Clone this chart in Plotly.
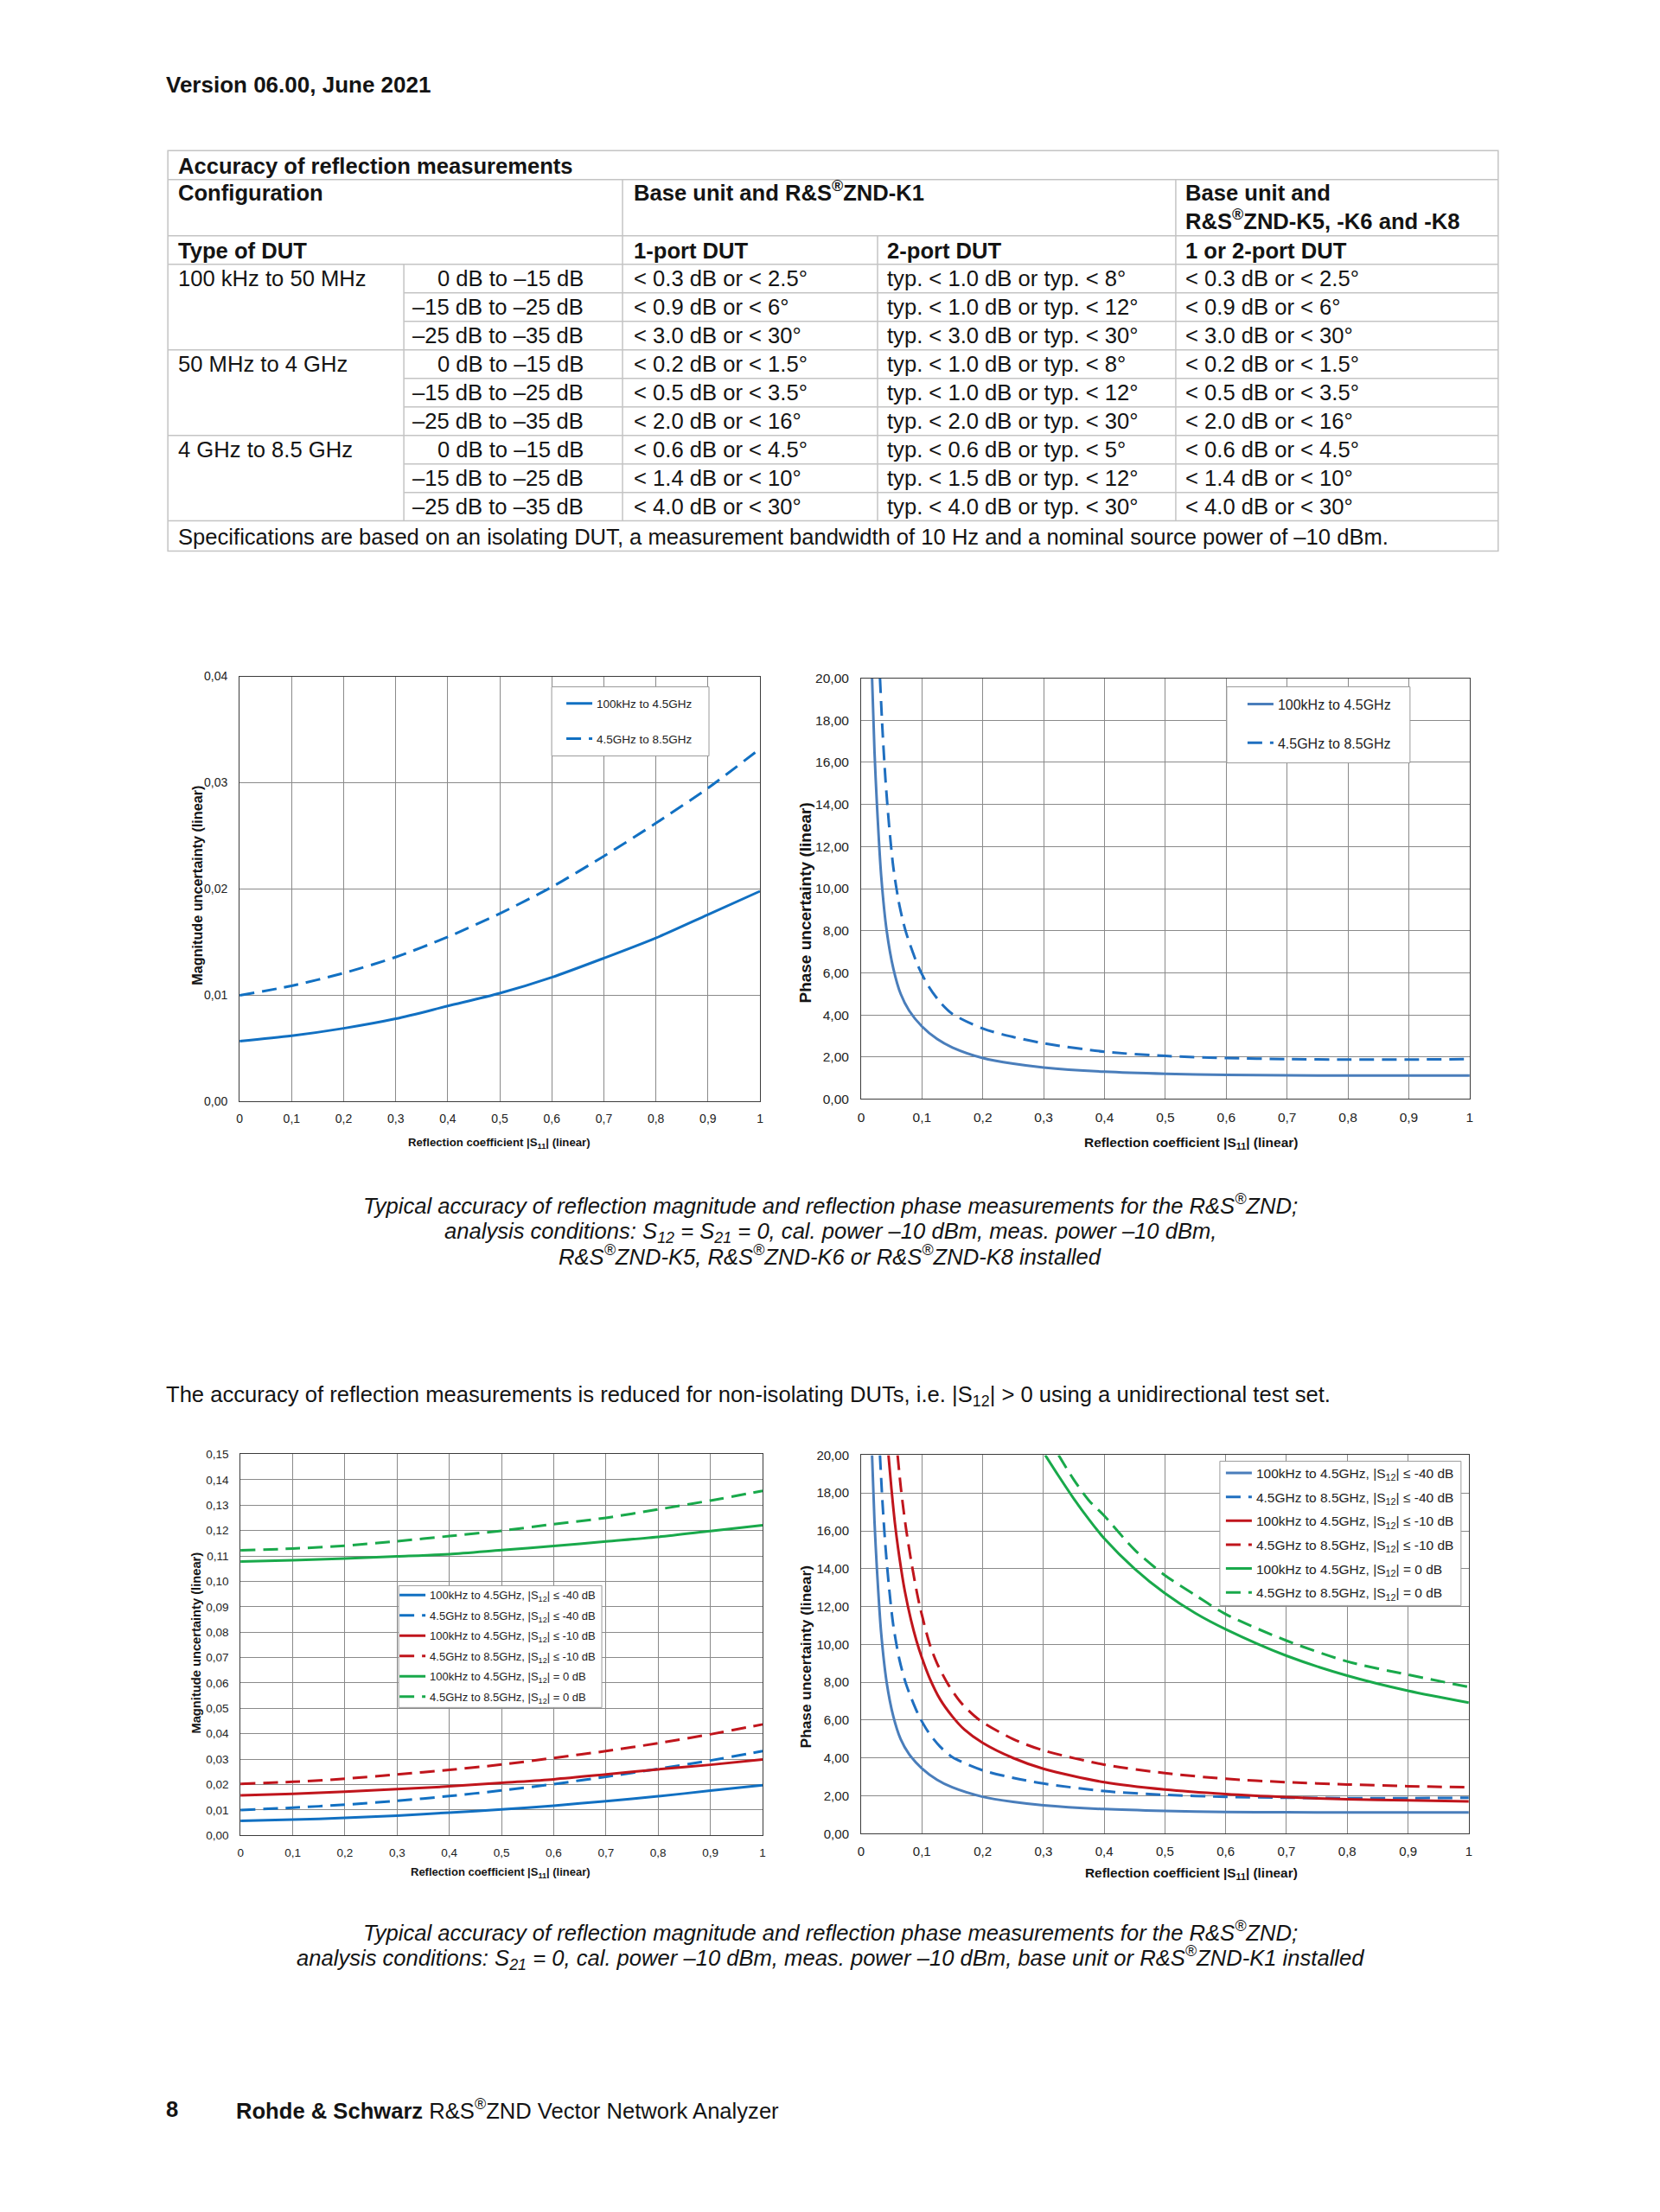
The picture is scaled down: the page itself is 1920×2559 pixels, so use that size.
import plotly.graph_objects as go

W, H = 1920, 2559          # page size (browser window)
OFF = 8                    # default body margin of the html page
FW, FH = W - 2 * OFF, H - 2 * OFF
# small compensation of the page photograph (scale about the page centre)
SX, SY = 0.996, 0.9935
CX, CY = 960, 1280

# ---------------- page text ----------------
header_text = "Version 06.00, June 2021"
table_title = "Accuracy of reflection measurements"
config_label = "Configuration"
config_k1 = "Base unit and R&amp;S<sup>®</sup>ZND-K1"
config_k568_l1 = "Base unit and"
config_k568_l2 = "R&amp;S<sup>®</sup>ZND-K5, -K6 and -K8"
type_labels = ["Type of DUT", "1-port DUT", "2-port DUT", "1 or 2-port DUT"]
freq_ranges = ["100 kHz to 50 MHz", "50 MHz to 4 GHz", "4 GHz to 8.5 GHz"]
level_ranges = ["0 dB to –15 dB", "–15 dB to –25 dB", "–25 dB to –35 dB"]
one_port = ["< 0.3 dB or < 2.5°", "< 0.9 dB or < 6°", "< 3.0 dB or < 30°",
            "< 0.2 dB or < 1.5°", "< 0.5 dB or < 3.5°", "< 2.0 dB or < 16°",
            "< 0.6 dB or < 4.5°", "< 1.4 dB or < 10°", "< 4.0 dB or < 30°"]
two_port = ["typ. < 1.0 dB or typ. < 8°", "typ. < 1.0 dB or typ. < 12°", "typ. < 3.0 dB or typ. < 30°",
            "typ. < 1.0 dB or typ. < 8°", "typ. < 1.0 dB or typ. < 12°", "typ. < 2.0 dB or typ. < 30°",
            "typ. < 0.6 dB or typ. < 5°", "typ. < 1.5 dB or typ. < 12°", "typ. < 4.0 dB or typ. < 30°"]
k568_port = ["< 0.3 dB or < 2.5°", "< 0.9 dB or < 6°", "< 3.0 dB or < 30°",
             "< 0.2 dB or < 1.5°", "< 0.5 dB or < 3.5°", "< 2.0 dB or < 16°",
             "< 0.6 dB or < 4.5°", "< 1.4 dB or < 10°", "< 4.0 dB or < 30°"]
table_note = ("Specifications are based on an isolating DUT, a measurement bandwidth of 10 Hz "
              "and a nominal source power of –10 dBm.")
caption1 = ["Typical accuracy of reflection magnitude and reflection phase measurements for the R&amp;S<sup>®</sup>ZND;",
            "analysis conditions: S<sub>12</sub> = S<sub>21</sub> = 0, cal. power –10 dBm, meas. power –10 dBm,",
            "R&amp;S<sup>®</sup>ZND-K5, R&amp;S<sup>®</sup>ZND-K6 or R&amp;S<sup>®</sup>ZND-K8 installed"]
intro_text = ("The accuracy of reflection measurements is reduced for non-isolating DUTs, "
              "i.e. |S<sub>12</sub>| &gt; 0 using a unidirectional test set.")
caption2 = ["Typical accuracy of reflection magnitude and reflection phase measurements for the R&amp;S<sup>®</sup>ZND;",
            "analysis conditions: S<sub>21</sub> = 0, cal. power –10 dBm, meas. power –10 dBm, base unit or R&amp;S<sup>®</sup>ZND-K1 installed"]
footer_page = "8"
footer_text = "<b>Rohde &amp; Schwarz</b> R&amp;S<sup>®</sup>ZND Vector Network Analyzer"

# ---------------- chart labels ----------------
x_title = "Reflection coefficient |S<sub>11</sub>| (linear)"
mag_title = "Magnitude uncertainty (linear)"
phase_title = "Phase uncertainty (linear)"
x_tickvals = [0, 0.1, 0.2, 0.3, 0.4, 0.5, 0.6, 0.7, 0.8, 0.9, 1.0]
x_ticktext = ["0", "0,1", "0,2", "0,3", "0,4", "0,5", "0,6", "0,7", "0,8", "0,9", "1"]
mag1_tickvals = [0, 0.01, 0.02, 0.03, 0.04]
mag1_ticktext = ["0,00", "0,01", "0,02", "0,03", "0,04"]
mag2_tickvals = [0, 0.01, 0.02, 0.03, 0.04, 0.05, 0.06, 0.07, 0.08, 0.09, 0.10, 0.11, 0.12, 0.13, 0.14, 0.15]
mag2_ticktext = ["0,00", "0,01", "0,02", "0,03", "0,04", "0,05", "0,06", "0,07", "0,08", "0,09",
                 "0,10", "0,11", "0,12", "0,13", "0,14", "0,15"]
phase_tickvals = [0, 2, 4, 6, 8, 10, 12, 14, 16, 18, 20]
phase_ticktext = ["0,00", "2,00", "4,00", "6,00", "8,00", "10,00", "12,00", "14,00", "16,00", "18,00", "20,00"]

legend_top = ["100kHz to 4.5GHz", "4.5GHz to 8.5GHz"]
legend_bottom = ["100kHz to 4.5GHz, |S<sub>12</sub>| ≤ -40 dB",
                 "4.5GHz to 8.5GHz, |S<sub>12</sub>| ≤ -40 dB",
                 "100kHz to 4.5GHz, |S<sub>12</sub>| ≤ -10 dB",
                 "4.5GHz to 8.5GHz, |S<sub>12</sub>| ≤ -10 dB",
                 "100kHz to 4.5GHz, |S<sub>12</sub>| = 0 dB",
                 "4.5GHz to 8.5GHz, |S<sub>12</sub>| = 0 dB"]

# ---------------- chart data ----------------
s11 = [0.0, 0.1, 0.2, 0.3, 0.4, 0.5, 0.6, 0.7, 0.8, 0.9, 1.0]
mag_lo_40 = [0.0057, 0.0062, 0.0069, 0.0078, 0.0090, 0.0102, 0.0117, 0.0135, 0.0154, 0.0176, 0.0198]
mag_hi_40 = [0.0100, 0.0109, 0.0121, 0.0136, 0.0155, 0.0177, 0.0202, 0.0231, 0.0262, 0.0295, 0.0332]
mag_lo_10 = [0.0158, 0.0164, 0.0172, 0.0182, 0.0193, 0.0207, 0.0221, 0.0240, 0.0260, 0.0278, 0.0299]
mag_hi_10 = [0.0203, 0.0211, 0.0223, 0.0240, 0.0258, 0.0279, 0.0305, 0.0332, 0.0363, 0.0398, 0.0437]
mag_lo_0 = [0.1078, 0.1083, 0.1090, 0.1098, 0.1107, 0.1123, 0.1139, 0.1157, 0.1175, 0.1198, 0.1221]
mag_hi_0 = [0.1122, 0.1129, 0.1140, 0.1158, 0.1178, 0.1199, 0.1225, 0.1250, 0.1283, 0.1318, 0.1356]

ph_lo_40_x = [0.018, 0.022, 0.026, 0.033, 0.042, 0.053, 0.065, 0.079, 0.1, 0.125, 0.15, 0.2, 0.25, 0.3,
              0.4, 0.5, 0.6, 0.7, 0.8, 0.9, 1.0]
ph_lo_40_y = [20.0, 16.5, 14.0, 10.6, 8.0, 6.2, 5.0, 4.2, 3.45, 2.85, 2.45, 1.95, 1.68, 1.5,
              1.3, 1.2, 1.15, 1.13, 1.12, 1.12, 1.12]
ph_hi_40_x = [0.031, 0.035, 0.040, 0.046, 0.053, 0.063, 0.074, 0.094, 0.111, 0.13, 0.15, 0.2, 0.25, 0.3,
              0.4, 0.5, 0.6, 0.7, 0.8, 0.9, 1.0]
ph_hi_40_y = [20.0, 17.6, 15.2, 13.0, 11.0, 9.2, 7.9, 6.3, 5.35, 4.6, 4.05, 3.35, 2.95, 2.65,
              2.25, 2.05, 1.95, 1.9, 1.88, 1.88, 1.9]
ph_lo_10_x = [0.045, 0.05, 0.056, 0.063, 0.072, 0.082, 0.091, 0.1, 0.113, 0.13, 0.15, 0.17, 0.2, 0.25,
              0.3, 0.4, 0.5, 0.6, 0.7, 0.8, 0.9, 1.0]
ph_lo_10_y = [20.0, 18.2, 16.3, 14.6, 12.8, 11.3, 10.2, 9.3, 8.2, 7.1, 6.2, 5.5, 4.8, 4.0,
              3.43, 2.72, 2.33, 2.09, 1.93, 1.82, 1.76, 1.7]
ph_hi_10_x = [0.06, 0.066, 0.074, 0.084, 0.096, 0.113, 0.125, 0.143, 0.165, 0.195, 0.25, 0.3, 0.4, 0.5,
              0.6, 0.7, 0.8, 0.9, 1.0]
ph_hi_10_y = [20.0, 18.1, 16.1, 14.1, 12.1, 10.0, 9.0, 7.9, 6.9, 6.0, 5.0, 4.4, 3.65, 3.2,
              2.9, 2.72, 2.6, 2.51, 2.45]
ph_lo_0_x = [0.303, 0.325, 0.35, 0.375, 0.4, 0.45, 0.5, 0.55, 0.6, 0.7, 0.8, 0.9, 1.0]
ph_lo_0_y = [20.0, 18.9, 17.7, 16.6, 15.6, 14.0, 12.7, 11.65, 10.8, 9.4, 8.35, 7.55, 6.92]
ph_hi_0_x = [0.325, 0.35, 0.375, 0.4, 0.45, 0.5, 0.55, 0.6, 0.7, 0.8, 0.9, 1.0]
ph_hi_0_y = [20.0, 18.7, 17.6, 16.8, 15.0, 13.65, 12.6, 11.6, 10.2, 9.1, 8.4, 7.75]

# ---------------- styles ----------------
BODY = "Liberation Sans, Arial, Helvetica, sans-serif"
CHART = "Liberation Sans, Arial, Helvetica, sans-serif"
INK = "#141414"
BLUE = "#1170C2"
BLUE_PH = "#4A7EBB"
BLUE_PH_D = "#1F6FC0"
RED = "#C0151C"
GREEN = "#19A94B"
DASH = "17px,9px"
TABLE_LINE = "#c4c4c4"
LEGEND_LINE = "#9a9a9a"
FS = 25.6


def px(x):
    x = CX + (x - CX) / SX
    return (x - OFF) / FW


def py(y):
    y = CY + (y - CY) / SY
    return 1 - (y - OFF) / FH


fig = go.Figure()
annotations = []
shapes = []


def txt(x, y, s, size=FS, anchor="left", family=BODY, angle=0, color=INK):
    if angle == 0 and size > 20 and "<sub>" in s:
        y += 4
    if anchor == "left":
        x -= 3
    annotations.append(dict(x=px(x), y=py(y), xref="paper", yref="paper", text=s, showarrow=False,
                            xanchor=anchor, yanchor="middle", textangle=angle,
                            font=dict(family=family, size=size, color=color)))


def line(x0, y0, x1, y1, color=TABLE_LINE, width=1.5):
    shapes.append(dict(type="line", xref="paper", yref="paper", x0=px(x0), y0=py(y0), x1=px(x1), y1=py(y1),
                       line=dict(color=color, width=width)))


def box(x0, y0, x1, y1):
    shapes.append(dict(type="rect", xref="paper", yref="paper", x0=px(x0), x1=px(x1), y0=py(y1), y1=py(y0),
                       line=dict(color=LEGEND_LINE, width=1), fillcolor="white", layer="above"))


# ---------------- header ----------------
txt(193, 97, "<b>" + header_text + "</b>", size=26)

# ---------------- table ----------------
T_L, T_R = 194, 1733
C1, C2, C3, C4 = 467, 720, 1015, 1360
R_TOP, R_TITLE, R_CONF, R_TYPE = 173.5, 207, 272, 305
ROW_H = 33
R_BOT = 602
R_NOTE = 637
rows = [R_TYPE + i * ROW_H for i in range(10)]

shapes.append(dict(type="rect", xref="paper", yref="paper", x0=px(T_L), x1=px(T_R), y0=py(R_NOTE), y1=py(R_TOP),
                   line=dict(color=TABLE_LINE, width=1.5)))
for y in [R_TITLE, R_CONF, R_TYPE, R_BOT]:
    line(T_L, y, T_R, y)
for i, y in enumerate(rows[1:-1]):
    if (i + 1) % 3 == 0:
        line(T_L, y, T_R, y)
    else:
        line(C1, y, T_R, y)
line(C1, R_TYPE, C1, R_BOT)
line(C2, R_TITLE, C2, R_BOT)
line(C3, R_CONF, C3, R_BOT)
line(C4, R_TITLE, C4, R_BOT)

txt(207, 191, "<b>" + table_title + "</b>")
txt(207, 222, "<b>" + config_label + "</b>")
txt(734, 220, "<b>" + config_k1 + "</b>")
txt(1372, 222, "<b>" + config_k568_l1 + "</b>")
txt(1372, 253, "<b>" + config_k568_l2 + "</b>")
type_x = [207, 734, 1027, 1372]
for xx, s in zip(type_x, type_labels):
    txt(xx, 289, "<b>" + s + "</b>")
for i in range(9):
    yc = (rows[i] + rows[i + 1]) / 2
    if i % 3 == 0:
        txt(207, yc, freq_ranges[i // 3])
    txt(677, yc, level_ranges[i % 3], anchor="right")
    txt(734, yc, one_port[i])
    txt(1027, yc, two_port[i])
    txt(1372, yc, k568_port[i])
txt(207, 620, table_note)

# ---------------- captions ----------------
for yy, s in zip([1393, 1422, 1452], caption1):
    txt(960, yy, "<i>" + s + "</i>", anchor="center")
txt(193, 1611, intro_text)
for yy, s in zip([2234, 2261], caption2):
    txt(960, yy, "<i>" + s + "</i>", anchor="center")
txt(193, 2440, "<b>" + footer_page + "</b>")
txt(274, 2440, footer_text)

# ---------------- charts ----------------
charts = [
    # name, x-domain px, y-domain px (top, bottom), ytickvals, yticktext, yrange, tick size
    ("1", (277, 879), (782, 1274), mag1_tickvals, mag1_ticktext, [0, 0.04], 14),
    ("2", (996, 1700), (784, 1271), phase_tickvals, phase_ticktext, [0, 20], 15.5),
    ("3", (278, 882), (1682, 2123), mag2_tickvals, mag2_ticktext, [0, 0.15], 13.5),
    ("4", (996, 1699), (1683, 2121), phase_tickvals, phase_ticktext, [0, 20], 15),
]
layout_axes = {}
for name, (xl, xr), (yt, yb), tv, tt, yr, tsz in charts:
    sfx = "" if name == "1" else name
    common = dict(showgrid=True, gridcolor="#8a8a8a", gridwidth=1, showline=True, linecolor="#3c3c3c",
                  linewidth=1, mirror=True, zeroline=False, ticks="",
                  tickfont=dict(family=CHART, size=tsz, color="#222222"))
    layout_axes["xaxis" + sfx] = dict(domain=[px(xl), px(xr)], range=[0, 1], anchor="y" + sfx,
                                      tickvals=x_tickvals, ticktext=x_ticktext, ticklabelstandoff=7, **common)
    layout_axes["yaxis" + sfx] = dict(domain=[py(yb), py(yt)], range=yr, anchor="x" + sfx,
                                      tickvals=tv, ticktext=tt, ticklabelstandoff=10, **common)

# axis titles
txt(577, 1322, "<b>" + x_title + "</b>", size=13.2, anchor="center", family=CHART)
txt(227, 1024, "<b>" + mag_title + "</b>", size=16.2, anchor="center", family=CHART, angle=-90)
txt(1378, 1322, "<b>" + x_title + "</b>", size=15.5, anchor="center", family=CHART)
txt(932, 1044, "<b>" + phase_title + "</b>", size=19, anchor="center", family=CHART, angle=-90)
txt(579, 2166, "<b>" + x_title + "</b>", size=13, anchor="center", family=CHART)
txt(227, 1900, "<b>" + mag_title + "</b>", size=14.7, anchor="center", family=CHART, angle=-90)
txt(1378, 2167, "<b>" + x_title + "</b>", size=15.4, anchor="center", family=CHART)
txt(932, 1917, "<b>" + phase_title + "</b>", size=17.3, anchor="center", family=CHART, angle=-90)

# legend frames (white boxes with grey border, drawn over the grid)
box(638, 794, 820, 874)
box(1419, 794, 1631, 882)
box(461, 1834, 696, 1975)
box(1411, 1690, 1690, 1857)


def add(x, y, name, color, dash, xa, ya, legend, group):
    fig.add_trace(go.Scatter(x=x, y=y, name=name, mode="lines", xaxis=xa, yaxis=ya,
                             line=dict(color=color, width=3, dash=dash, shape="spline", smoothing=0.8),
                             legend=legend, legendgroup=group, hoverinfo="skip"))


# chart 1: magnitude, isolating DUT
add(s11, mag_lo_40, legend_top[0], BLUE, "solid", "x", "y", "legend", "a1")
add(s11, mag_hi_40, legend_top[1], BLUE, DASH, "x", "y", "legend", "a2")
# chart 2: phase, isolating DUT
add(ph_lo_40_x, ph_lo_40_y, legend_top[0], BLUE_PH, "solid", "x2", "y2", "legend2", "b1")
add(ph_hi_40_x, ph_hi_40_y, legend_top[1], BLUE_PH_D, DASH, "x2", "y2", "legend2", "b2")
# chart 3: magnitude, non-isolating DUT
mags = [mag_lo_40, mag_hi_40, mag_lo_10, mag_hi_10, mag_lo_0, mag_hi_0]
cols = [BLUE, BLUE, RED, RED, GREEN, GREEN]
dashes = ["solid", DASH] * 3
for i, (m, c, d) in enumerate(zip(mags, cols, dashes)):
    add(s11, m, legend_bottom[i], c, d, "x3", "y3", "legend3", "c%d" % i)
# chart 4: phase, non-isolating DUT
phs = [(ph_lo_40_x, ph_lo_40_y), (ph_hi_40_x, ph_hi_40_y), (ph_lo_10_x, ph_lo_10_y),
       (ph_hi_10_x, ph_hi_10_y), (ph_lo_0_x, ph_lo_0_y), (ph_hi_0_x, ph_hi_0_y)]
cols4 = [BLUE_PH, BLUE_PH_D, RED, RED, GREEN, GREEN]
for i, ((xx, yy), c, d) in enumerate(zip(phs, cols4, dashes)):
    add(xx, yy, legend_bottom[i], c, d, "x4", "y4", "legend4", "d%d" % i)


def leg(x, y, size, gap):
    return dict(x=px(x), y=py(y), xanchor="left", yanchor="top", bgcolor="rgba(0,0,0,0)",
                borderwidth=0, tracegroupgap=gap,
                font=dict(family=CHART, size=size, color="#222222"))


fig.update_layout(
    width=FW, height=FH, margin=dict(l=0, r=0, t=0, b=0),
    paper_bgcolor="white", plot_bgcolor="white",
    showlegend=True,
    legend=leg(650, 798, 13.5, 20),
    legend2=leg(1438, 797, 16, 21),
    legend3=leg(457, 1830, 13, 3.6),
    legend4=leg(1413, 1687, 15.5, 4.5),
    annotations=annotations, shapes=shapes,
    **layout_axes,
)

fig.write_html("out.html", config={"displayModeBar": False})
